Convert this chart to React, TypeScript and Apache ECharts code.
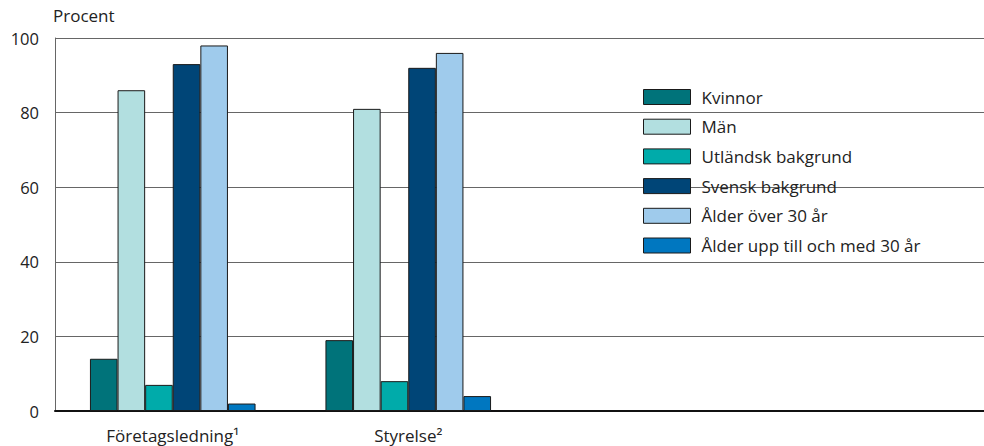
import React, { useEffect, useRef } from "react";
import * as echarts from "echarts";

const categories = ["Företagsledning¹", "Styrelse²", "", ""];
const seriesNames = [
  "Kvinnor",
  "Män",
  "Utländsk bakgrund",
  "Svensk bakgrund",
  "Ålder över 30 år",
  "Ålder upp till och med 30 år",
];
const kvinnor = [14, 19, null, null];
const man = [86, 81, null, null];
const utlandsk = [7, 8, null, null];
const svensk = [93, 92, null, null];
const alderOver = [98, 96, null, null];
const alderUpp = [2, 4, null, null];
const colors = ["#00737a", "#b2dfe0", "#00abaa", "#004577", "#9fcbec", "#0077c0"];
const yTicks = [0, 20, 40, 60, 80, 100];

export default function App() {
  const ref = useRef<HTMLDivElement>(null);
  useEffect(() => {
    if (!ref.current) return;
    const chart = echarts.init(ref.current, undefined, { renderer: "svg" });
    const data = [kvinnor, man, utlandsk, svensk, alderOver, alderUpp];
    const font = "'Open Sans', sans-serif";
    chart.setOption({
      animation: false,
      textStyle: { fontFamily: font },
      grid: { left: 55, width: 942, top: 38, bottom: 35, containLabel: false },
      legend: {
        orient: "vertical",
        left: 638,
        top: 83.5,
        itemWidth: 47,
        itemHeight: 15,
        itemGap: 12.7,
        icon: "rect",
        data: seriesNames,
        itemStyle: { borderColor: "#1a1a1a", borderWidth: 1 },
        textStyle: {
          fontSize: 17,
          lineHeight: 17,
          color: "#222",
          fontFamily: font,
          padding: [0, 0, 0, 6],
        },
      },
      xAxis: {
        type: "category",
        data: categories,
        axisLine: { lineStyle: { color: "#111", width: 2 } },
        axisTick: { show: false },
        axisLabel: { fontSize: 17, color: "#222", margin: 16, fontFamily: font },
      },
      yAxis: {
        type: "value",
        min: 0,
        max: 100,
        interval: 20,
        name: "Procent",
        nameLocation: "end",
        nameGap: 14,
        nameTextStyle: {
          fontSize: 17,
          color: "#222",
          align: "left",
          padding: [0, 0, 0, -2],
          fontFamily: font,
        },
        axisLine: { show: true, lineStyle: { color: "#666", width: 1 } },
        axisTick: { show: false },
        axisLabel: {
          fontSize: 16.5,
          color: "#222",
          margin: 16,
          fontFamily: font,
          formatter: (v: number) => (yTicks.includes(v) ? String(v) : ""),
        },
        splitLine: { lineStyle: { color: "#666", width: 1 } },
      },
      series: seriesNames.map((name, i) => ({
        name,
        type: "bar",
        data: data[i],
        barWidth: 27.6,
        barGap: "0%",
        itemStyle: { color: colors[i], borderColor: "#1a1a1a", borderWidth: 1 },
      })),
    });
    return () => chart.dispose();
  }, []);
  return (
    <div style={{ position: "absolute", left: 0, top: 0, width: 984, height: 446, overflow: "hidden" }}>
      <div ref={ref} style={{ width: 1000, height: 446 }} />
    </div>
  );
}
